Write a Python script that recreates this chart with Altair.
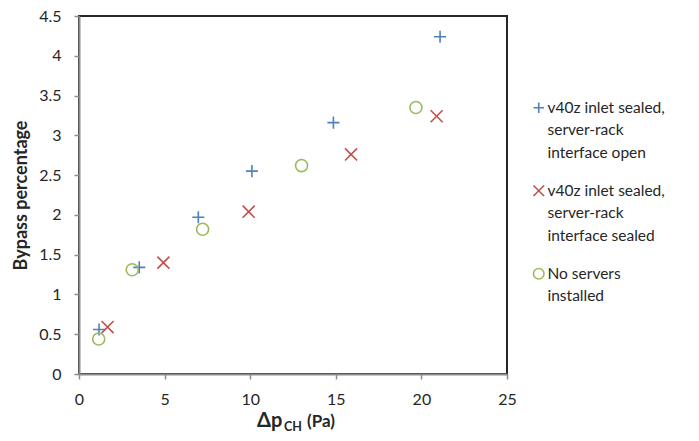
import altair as alt
import pandas as pd

series_names = [
    "v40z inlet sealed,|server-rack|interface open",
    "v40z inlet sealed,|server-rack|interface sealed",
    "No servers|installed",
]
colors = ["#4F81BD", "#C0504D", "#9BBB59"]
shapes = ["M-1,0H1M0,-1V1", "M-1,-1L1,1M-1,1L1,-1", "circle"]

open_x = [1.17, 3.52, 6.97, 10.1, 14.86, 21.09]
open_y = [0.56, 1.34, 1.97, 2.55, 3.16, 4.24]
sealed_x = [1.67, 4.93, 9.91, 15.89, 20.89]
sealed_y = [0.59, 1.40, 2.04, 2.76, 3.24]
none_x = [1.15, 3.11, 7.22, 13.0, 19.68]
none_y = [0.44, 1.31, 1.82, 2.62, 3.35]

x_ticks = [0, 5, 10, 15, 20, 25]
y_ticks = [0, 0.5, 1, 1.5, 2, 2.5, 3, 3.5, 4, 4.5]

rows = []
for name, xs, ys in zip(series_names, [open_x, sealed_x, none_x], [open_y, sealed_y, none_y]):
    for a, b in zip(xs, ys):
        rows.append({"series": name, "dp": a, "bypass": b})
df = pd.DataFrame(rows)

FONT = "Lato"

points = alt.Chart(df).mark_point(filled=False, strokeWidth=1.6, opacity=1).encode(
    x=alt.X("dp:Q", scale=alt.Scale(domain=[0, 25], nice=False),
            axis=alt.Axis(values=x_ticks, title=None, grid=False, labelPadding=12,
                          tickSize=5, format="~g", labelFlush=False)),
    y=alt.Y("bypass:Q", scale=alt.Scale(domain=[0, 4.5], nice=False),
            axis=alt.Axis(values=y_ticks, title="Bypass percentage", grid=False,
                          labelPadding=13, tickSize=5, format="~g", labelFlush=False,
                          titleFontWeight="bold", titleFontSize=18, titlePadding=8)),
    color=alt.Color("series:N", scale=alt.Scale(domain=series_names, range=colors),
                    legend=alt.Legend(title=None, orient="none", legendX=452, legendY=84,
                                      labelExpr="split(datum.label, '|')",
                                      labelFontSize=15.5, labelLimit=300, rowPadding=20,
                                      symbolSize=110, symbolStrokeWidth=1.6,
                                      labelOffset=1)),
    shape=alt.Shape("series:N", scale=alt.Scale(domain=series_names, range=shapes)),
    size=alt.value(145),
)

t1 = alt.Chart(pd.DataFrame({"t": ["Δp"]})).mark_text(
    align="left", baseline="alphabetic", fontSize=20, fontWeight="bold", font=FONT, color="#262626"
).encode(text="t:N", x=alt.value(178), y=alt.value(411))
t2 = alt.Chart(pd.DataFrame({"t": ["CH"]})).mark_text(
    align="left", baseline="alphabetic", fontSize=12.5, fontWeight="bold", font=FONT, color="#262626"
).encode(text="t:N", x=alt.value(205), y=alt.value(415))
t3 = alt.Chart(pd.DataFrame({"t": ["(Pa)"]})).mark_text(
    align="left", baseline="alphabetic", fontSize=17, fontWeight="bold", font=FONT, color="#262626"
).encode(text="t:N", x=alt.value(228), y=alt.value(411))

chart = alt.layer(points, t1, t2, t3).properties(
    width=428, height=358,
    autosize=alt.AutoSizeParams(type="none"),
    padding={"left": 79, "top": 16, "right": 192, "bottom": 67},
).configure(
    style={"guide-label": {"lineHeight": 22.5}}
).configure_view(
    stroke="#262626", strokeWidth=2
).configure_axis(
    domainColor="#8C8C8C", domainWidth=2, tickColor="#8C8C8C", tickWidth=1.5,
    labelFont=FONT, titleFont=FONT, labelFontSize=16, labelColor="#262626", titleColor="#262626"
).configure_legend(
    labelFont=FONT, labelColor="#262626"
)

chart.save("out.html", embed_options={"renderer": "svg", "actions": False})
